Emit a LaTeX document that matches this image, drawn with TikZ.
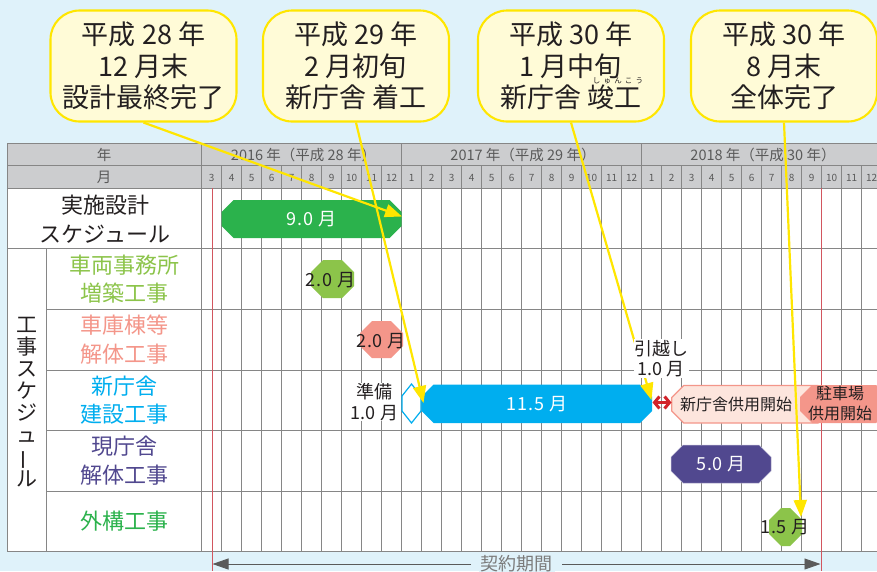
\documentclass[tikz,border=0pt]{standalone}
\usepackage{fontspec}
\usepackage{graphicx}
\setmainfont{Noto Sans CJK JP}
\usetikzlibrary{arrows.meta}
\definecolor{bgblue}{HTML}{DFF2FA}
\definecolor{headgray}{HTML}{CCCDCF}
\definecolor{gridgray}{HTML}{868686}
\definecolor{headtext}{HTML}{5A5A5A}
\definecolor{ink}{HTML}{231F20}
\definecolor{callyellow}{HTML}{FFE600}
\definecolor{callfill}{HTML}{FFFBD7}
\definecolor{cgreen}{HTML}{2BB24C}
\definecolor{clime}{HTML}{8CC44A}
\definecolor{csalmon}{HTML}{F4968A}
\definecolor{cblue}{HTML}{00AEEF}
\definecolor{cpurple}{HTML}{51488F}
\definecolor{cpink}{HTML}{FDE5DD}
\definecolor{cred}{HTML}{D2232A}
\definecolor{limitred}{HTML}{D2565F}
\newcommand{\fs}[2]{\fontsize{#1}{#2}\selectfont}
% name, x1, y1, x2, y2, style, text, text style
\newcommand{\chambar}[8]{%
  \path[#6] (#2+12,#3) -- (#4-12,#3) -- (#4,#3+12) -- (#4,#5-12) -- (#4-12,#5) -- (#2+12,#5) -- (#2,#5-12) -- (#2,#3+12) -- cycle;
  \node[inner sep=0pt,minimum width=#4-#2,minimum height=#5-#3,#8] (#1) at ({(#2+#4)/2},{(#3+#5)/2}) {#7};
}
\tikzset{
  gridline/.style={draw=gridgray,line width=0.9pt},
  callbox/.style={draw=callyellow,fill=callfill,line width=2.1pt,rounded corners=29pt,minimum width=186pt,minimum height=111pt,inner sep=0pt,align=center,text=ink,font=\fs{27}{31.5}},
  callarrow/.style={draw=callyellow,line width=2.2pt,-{Triangle[length=17pt,width=13pt,fill=callyellow]}},
  headlabel/.style={inner sep=0pt,text=headtext,font=\fs{14.5}{16}},
  monthlabel/.style={inner sep=0pt,text=headtext,font=\fs{10}{11}},
  rowlabel/.style={inner sep=0pt,align=center,font=\fs{22}{28.5}},
  durlabel/.style={inner sep=0pt,font=\fs{18}{20}\addfontfeature{LetterSpace=5},text=ink},
  whitelabel/.style={durlabel,text=white},
  notelabel/.style={fill=white,inner sep=0.5pt,align=center,font=\fs{18}{20.5},text=ink},
}
\begin{document}
\begin{tikzpicture}[x=1pt,y=-1pt]
\useasboundingbox (0,0) rectangle (877,571);
\fill[bgblue] (0,0) rectangle (877,571);
% table
\fill[white] (7.7,188) rectangle (877,551.7);
\fill[headgray] (7.7,143.3) rectangle (877,188);
\foreach \m [count=\c from 0] in {3,4,5,6,7,8,9,10,11,12,1,2,3,4,5,6,7,8,9,10,11,12,1,2,3,4,5,6,7,8,9,10,11,12} {
  \pgfmathsetmacro\xx{201.7+20*\c}
  \draw[gridline] (\xx,165.7) -- (\xx,551.7);
  \node[monthlabel] (m\c) at (\xx+10,177.5) {\m};
}
\foreach \yy in {143.3,165.7,188,248.7,551.7} \draw[gridline] (7.7,\yy) -- (877,\yy);
\foreach \yy in {309.5,370,430.5,491} \draw[gridline] (46.7,\yy) -- (877,\yy);
\draw[gridline] (7.7,143.3) -- (7.7,551.7);
\draw[gridline] (46.7,248.7) -- (46.7,551.7);
\foreach \xx in {201.7,401.7,641.7} \draw[gridline] (\xx,143.3) -- (\xx,165.7);
% header text
\node[headlabel] (hy) at (104,154.5) {年};
\node[headlabel] (hm) at (104,177) {月};
\node[headlabel] (y16) at (303.5,154.5) {2016 年（平成 28 年）};
\node[headlabel] (y17) at (523,154.5) {2017 年（平成 29 年）};
\node[headlabel] (y18) at (763,154.5) {2018 年（平成 30 年）};
% row labels
\node[rowlabel,text=ink] (r0) at (105,219) {実施設計\\スケジュール};
\node[rowlabel,text=clime] (r1) at (124,279) {車両事務所\\増築工事};
\node[rowlabel,text=csalmon] (r2) at (124,339.5) {車庫棟等\\解体工事};
\node[rowlabel,text=cblue] (r3) at (124,400) {新庁舎\\建設工事};
\node[rowlabel,text=cpurple] (r4) at (124,460.5) {現庁舎\\解体工事};
\node[rowlabel,text=cgreen] (r5) at (124,521) {外構工事};
\node[inner sep=0pt,align=center,text=ink,font=\fs{21}{22}] (rv) at (27,402) {工\\事\\ス\\ケ\\ジ\\ュ\\\smash{\rotatebox[origin=c]{90}{ー}}\\ル};
% limits
\coordinate (lim1a) at (212,188);
\coordinate (lim1b) at (212,571);
\coordinate (lim2a) at (821,188);
\coordinate (lim2b) at (821,571);
\draw[limitred,line width=1pt] (lim1a) -- (lim1b);
\draw[limitred,line width=1pt] (lim2a) -- (lim2b);
% bars
\chambar{b1}{221.7}{200}{401.7}{238}{fill=cgreen}{9.0 月}{whitelabel}
\chambar{b2}{311}{260}{354}{298}{fill=clime}{}{}
\node[durlabel] (l2) at (330.5,280) {2.0 月};
\chambar{b3}{360}{321}{403}{358}{fill=csalmon}{}{}
\node[durlabel] (l3) at (381,341) {2.0 月};
\path[draw=cblue,fill=white,line width=1.2pt] (402,396) -- (411.5,384) -- (421,396) -- (421,411) -- (411.5,423) -- (402,411) -- cycle;
\node[notelabel] (l4) at (374.5,402) {準備\\1.0 月};
\chambar{b4}{421.7}{384.5}{652}{423}{fill=cblue}{11.5 月}{whitelabel}
\chambar{b5}{671.7}{385.5}{830}{423}{draw=csalmon,fill=cpink,line width=1.2pt}{}{}
\node[inner sep=0pt,text=ink,font=\fs{16}{18}] (l5) at (736,404.5) {新庁舎供用開始};
\chambar{b6}{800}{385}{888}{423}{fill=csalmon}{}{}
\node[inner sep=0pt,align=center,text=ink,font=\fs{16}{20}] (l6) at (840,403.5) {駐車場\\供用開始};
\chambar{b7}{671}{445}{771}{483}{fill=cpurple,draw=cpurple!40,line width=.5pt}{5.0 月}{whitelabel}
\chambar{b8}{769}{508}{802}{546}{fill=clime}{}{}
\node[durlabel] (l8) at (785,527) {1.5 月};
\coordinate (rl) at (652.5,402.5);
\coordinate (rr) at (671.5,402.5);
\draw[cred,line width=3pt,{Straight Barb[length=5pt,width=12pt,line width=3pt]}-{Straight Barb[length=5pt,width=12pt,line width=3pt]}] (rl) -- (rr);
% contract period
\node[inner sep=2pt,fill=bgblue,text=headtext!80,font=\fs{18}{20}] (cp) at (516.5,563.5) {契約期間};
\coordinate (cpl) at (212.5,564);
\coordinate (cpr) at (820.5,564);
\draw[headtext,line width=.9pt,-{Triangle[length=16pt,width=11pt]}] (471,564) -- (cpl);
\draw[headtext,line width=.9pt,-{Triangle[length=16pt,width=11pt]}] (562,564) -- (cpr);
% callouts
\node[callbox] (c1) at (143.5,66) {平成 28 年\\12 月末\\設計最終完了};
\node[callbox] (c2) at (356,66) {平成 29 年\\2 月初旬\\新庁舎 着工};
\node[callbox] (c3) at (571,66) {平成 30 年\\1 月中旬\\新庁舎 竣工};
\node[callbox] (c4) at (784,66) {平成 30 年\\8 月末\\全体完了};
\node[inner sep=0pt,text=ink,font=\fs{7.5}{8}\addfontfeature{LetterSpace=42}] (ruby) at (618,81) {しゅんこう};
\coordinate (t1) at (402,216.5);
\coordinate (t2) at (423.5,403);
\coordinate (t3) at (651.5,400);
\coordinate (t4) at (801,517);
\draw[callarrow] (c1.south) -- (t1);
\draw[callarrow] (c2.south) -- (t2);
\draw[callarrow] (c3.south) -- (t3);
\draw[callarrow] (c4.south) -- (t4);
\node[notelabel] (l9) at (661,358.5) {引越し\\1.0 月};
\end{tikzpicture}
\end{document}
